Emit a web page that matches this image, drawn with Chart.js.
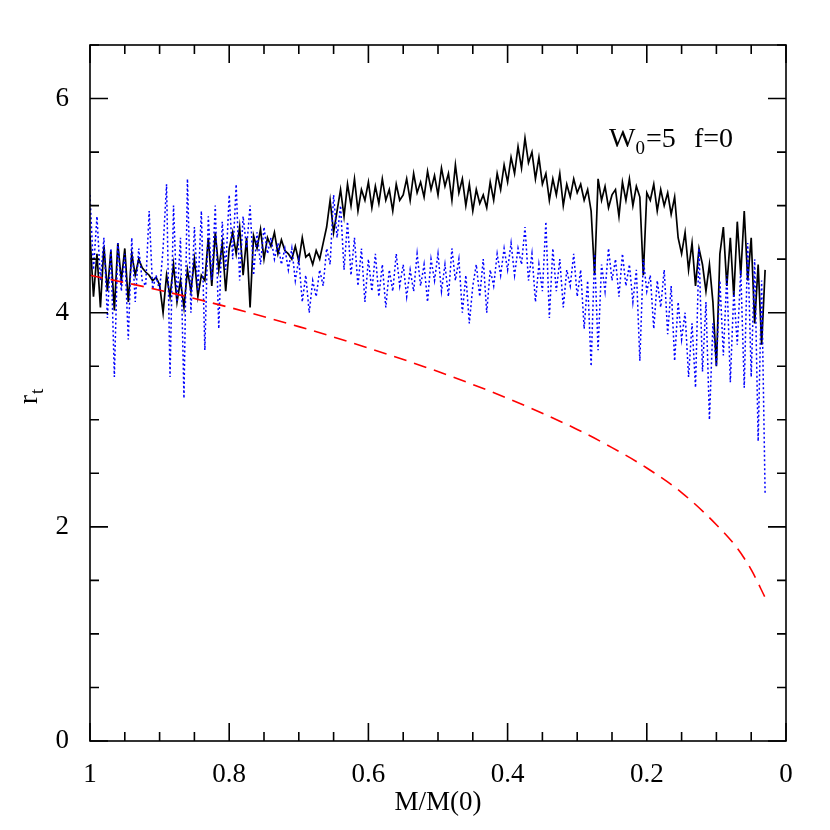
<!DOCTYPE html>
<html>
<head>
<meta charset="utf-8">
<script src="https://cdn.jsdelivr.net/npm/chart.js@4.4.0/dist/chart.umd.min.js"></script>
<style>
  html, body { margin: 0; padding: 0; background: #fff; }
</style>
</head>
<body>
<canvas id="rtChart" width="830" height="830"></canvas>
<script>
// mass fraction grid shared by the two noisy runs
const massGrid = [
  1.000, 0.995, 0.990, 0.985, 0.980, 0.975, 0.970, 0.965, 0.960, 0.955,
  0.950, 0.945, 0.940, 0.935, 0.930, 0.925, 0.920, 0.915, 0.910, 0.905,
  0.900, 0.895, 0.890, 0.885, 0.880, 0.875, 0.870, 0.865, 0.860, 0.855,
  0.850, 0.845, 0.840, 0.835, 0.830, 0.825, 0.820, 0.815, 0.810, 0.805,
  0.800, 0.795, 0.790, 0.785, 0.780, 0.775, 0.770, 0.765, 0.760, 0.755,
  0.750, 0.745, 0.740, 0.735, 0.730, 0.725, 0.720, 0.715, 0.710, 0.705,
  0.700, 0.695, 0.690, 0.685, 0.680, 0.675, 0.670, 0.665, 0.660, 0.655,
  0.650, 0.645, 0.640, 0.635, 0.630, 0.625, 0.620, 0.615, 0.610, 0.605,
  0.600, 0.595, 0.590, 0.585, 0.580, 0.575, 0.570, 0.565, 0.560, 0.555,
  0.550, 0.545, 0.540, 0.535, 0.530, 0.525, 0.520, 0.515, 0.510, 0.505,
  0.500, 0.495, 0.490, 0.485, 0.480, 0.475, 0.470, 0.465, 0.460, 0.455,
  0.450, 0.445, 0.440, 0.435, 0.430, 0.425, 0.420, 0.415, 0.410, 0.405,
  0.400, 0.395, 0.390, 0.385, 0.380, 0.375, 0.370, 0.365, 0.360, 0.355,
  0.350, 0.345, 0.340, 0.335, 0.330, 0.325, 0.320, 0.315, 0.310, 0.305,
  0.300, 0.295, 0.290, 0.285, 0.280, 0.275, 0.270, 0.265, 0.260, 0.255,
  0.250, 0.245, 0.240, 0.235, 0.230, 0.225, 0.220, 0.215, 0.210, 0.205,
  0.200, 0.195, 0.190, 0.185, 0.180, 0.175, 0.170, 0.165, 0.160, 0.155,
  0.150, 0.145, 0.140, 0.135, 0.130, 0.125, 0.120, 0.115, 0.110, 0.105,
  0.100, 0.095, 0.090, 0.085, 0.080, 0.075, 0.070, 0.065, 0.060, 0.055,
  0.050, 0.045, 0.040, 0.035, 0.030
];

// black solid run
const rtSolid = [
  4.72, 4.15, 4.55, 4.05, 4.62, 4.20, 4.58, 4.02, 4.65, 4.30,
  4.60, 4.10, 4.55, 4.35, 4.50, 4.42, 4.38, 4.35, 4.30, 4.33,
  4.26, 4.00, 4.35, 4.15, 4.45, 4.10, 4.30, 4.05, 4.40, 4.20,
  4.50, 4.15, 4.35, 4.30, 4.70, 4.25, 4.75, 4.40, 4.65, 4.20,
  4.60, 4.75, 4.55, 4.80, 4.35, 4.70, 4.05, 4.72, 4.60, 4.78,
  4.50, 4.70, 4.62, 4.75, 4.55, 4.68, 4.58, 4.55, 4.50, 4.62,
  4.48, 4.70, 4.52, 4.55, 4.45, 4.58, 4.50, 4.65, 4.80, 5.05,
  4.75, 4.95, 5.15, 4.90, 5.20, 5.00, 5.25, 4.95, 5.15, 5.05,
  5.22, 4.98, 5.18, 5.02, 5.25, 5.05, 5.15, 4.95, 5.20, 5.05,
  5.10, 5.25, 5.05, 5.30, 5.12, 5.22, 5.08, 5.32, 5.15, 5.28,
  5.10, 5.35, 5.18, 5.30, 5.05, 5.38, 5.12, 5.25, 5.00, 5.20,
  4.95, 5.15, 5.02, 5.10, 4.98, 5.22, 5.05, 5.30, 5.15, 5.38,
  5.22, 5.45, 5.30, 5.55, 5.35, 5.63, 5.40, 5.50, 5.25, 5.45,
  5.20, 5.30, 5.05, 5.25, 5.10, 5.30, 5.00, 5.20, 5.08, 5.25,
  5.12, 5.20, 5.05, 5.15, 4.95, 4.35, 5.25, 5.05, 5.18, 4.98,
  5.10, 5.15, 4.90, 5.22, 5.05, 5.25, 5.00, 5.18, 5.08, 4.35,
  5.12, 5.05, 5.20, 4.95, 5.15, 5.00, 5.12, 4.92, 5.08, 4.70,
  4.55, 4.75, 4.40, 4.65, 4.25, 4.60, 4.45, 4.20, 4.45, 4.10,
  3.50, 4.55, 4.80, 4.25, 4.70, 4.15, 4.85, 4.35, 4.95, 4.30,
  4.70, 3.90, 4.45, 3.70, 4.40
];

// blue dotted run
const rtDotted = [
  5.10, 4.40, 4.90, 4.30, 4.70, 3.95, 4.60, 3.40, 4.65, 4.20,
  4.55, 3.75, 4.70, 4.10, 4.60, 4.30, 4.25, 4.95, 4.22, 4.35,
  4.20, 4.60, 5.20, 3.40, 5.00, 4.10, 4.70, 3.20, 5.25, 4.00,
  4.80, 4.20, 4.95, 3.65, 4.90, 4.30, 5.00, 3.85, 4.85, 4.40,
  5.10, 4.50, 5.20, 4.30, 4.90, 4.60, 5.00, 4.35, 4.75, 4.45,
  4.80, 4.55, 4.70, 4.50, 4.65, 4.45, 4.60, 4.40, 4.60, 4.30,
  4.50, 4.10, 4.35, 4.00, 4.30, 4.15, 4.40, 4.25, 4.60, 4.45,
  5.10, 4.70, 5.00, 4.40, 4.85, 4.35, 4.70, 4.25, 4.60, 4.10,
  4.50, 4.20, 4.55, 4.15, 4.45, 4.05, 4.40, 4.20, 4.55, 4.25,
  4.45, 4.15, 4.40, 4.20, 4.55, 4.25, 4.45, 4.10, 4.50, 4.30,
  4.55, 4.20, 4.45, 4.15, 4.60, 4.30, 4.50, 4.00, 4.35, 3.90,
  4.25, 4.45, 4.15, 4.50, 4.00, 4.40, 4.25, 4.55, 4.35, 4.60,
  4.40, 4.65, 4.35, 4.60, 4.45, 4.80, 4.30, 4.55, 4.10, 4.45,
  4.20, 4.85, 3.95, 4.60, 4.20, 4.50, 4.05, 4.40, 4.25, 4.55,
  4.15, 4.40, 3.85, 4.30, 3.50, 4.55, 3.65, 4.45, 4.20, 4.60,
  4.30, 4.50, 4.15, 4.55, 4.25, 4.45, 4.10, 4.40, 3.55, 4.50,
  4.20, 4.35, 3.85, 4.30, 4.05, 4.40, 3.80, 4.25, 3.55, 4.10,
  3.75, 4.00, 3.40, 3.90, 3.30, 4.60, 3.45, 4.10, 3.00, 3.90,
  3.50, 4.30, 3.60, 4.35, 3.35, 4.20, 3.70, 4.40, 3.30, 4.65,
  3.40, 4.50, 2.80, 4.30, 2.30
];

// red dashed curve
const dashMass = [1.0, 0.9, 0.8, 0.7, 0.6, 0.5, 0.4, 0.3, 0.25, 0.2, 0.15, 0.1, 0.07, 0.05, 0.03];
const dashRt = [4.35, 4.21, 4.05, 3.87, 3.67, 3.45, 3.20, 2.91, 2.74, 2.55, 2.32, 2.02, 1.80, 1.60, 1.34];

const xTicks = [1, 0.8, 0.6, 0.4, 0.2, 0];
const yTicks = [0, 2, 4, 6];

const serif = "'Liberation Serif', 'Times New Roman', serif";

function pairs(xs, ys) {
    return xs.map(function (m, i) { return { x: m, y: ys[i] }; });
}

// frame with inward ticks on all four sides, plus the labels with subscripts
const framePlugin = {
    id: "frame",
    afterDatasetsDraw(chart) {
        const ctx = chart.ctx;
        const a = chart.chartArea;
        const x = chart.scales.x, y = chart.scales.y;
        ctx.save();
        ctx.strokeStyle = "#000";
        ctx.lineWidth = 1.6;
        ctx.strokeRect(a.left, a.top, a.right - a.left, a.bottom - a.top);
        ctx.beginPath();
        for (let k = 0; k <= 20; k++) {
            const px = x.getPixelForValue(k * 0.05);
            const len = k % 4 === 0 ? 18 : 9;
            ctx.moveTo(px, a.bottom); ctx.lineTo(px, a.bottom - len);
            ctx.moveTo(px, a.top); ctx.lineTo(px, a.top + len);
        }
        for (let k = 0; k <= 13; k++) {
            const py = y.getPixelForValue(k * 0.5);
            const len = k % 4 === 0 ? 18 : 9;
            ctx.moveTo(a.left, py); ctx.lineTo(a.left + len, py);
            ctx.moveTo(a.right, py); ctx.lineTo(a.right - len, py);
        }
        ctx.stroke();

        ctx.fillStyle = "#000";
        ctx.textBaseline = "alphabetic";
        ctx.textAlign = "left";

        // y title r_t, rotated
        ctx.save();
        ctx.translate(37, 404);
        ctx.rotate(-Math.PI / 2);
        ctx.font = "27px " + serif;
        ctx.fillText("r", 0, 0);
        const rw = ctx.measureText("r").width;
        ctx.font = "19px " + serif;
        ctx.fillText("t", rw + 1, 6);
        ctx.restore();

        // annotation W_0=5  f=0
        ctx.font = "28px " + serif;
        ctx.fillText("W", 609, 147);
        let cx = 609 + ctx.measureText("W").width;
        ctx.font = "19px " + serif;
        ctx.fillText("0", cx, 154);
        cx += ctx.measureText("0").width + 1;
        ctx.font = "28px " + serif;
        ctx.fillText("=5", cx, 147);
        ctx.fillText("f=0", 694, 147);
        ctx.restore();
    }
};

new Chart(document.getElementById("rtChart"), {
    type: "line",
    data: {
        datasets: [
            {
                label: "dashed",
                data: pairs(dashMass, dashRt),
                borderColor: "#ff0000",
                borderWidth: 1.6,
                borderDash: [13, 8],
                pointRadius: 0,
                cubicInterpolationMode: "monotone",
                fill: false,
                order: 0
            },
            {
                label: "dotted",
                data: pairs(massGrid, rtDotted),
                borderColor: "#0000ff",
                borderWidth: 1.5,
                borderDash: [2, 2.5],
                pointRadius: 0,
                tension: 0,
                fill: false,
                order: 1
            },
            {
                label: "solid",
                data: pairs(massGrid, rtSolid),
                borderColor: "#000000",
                borderWidth: 1.7,
                pointRadius: 0,
                tension: 0,
                fill: false,
                order: 2
            }
        ]
    },
    options: {
        responsive: false,
        animation: false,
        layout: { padding: { top: 45, right: 44, left: 0, bottom: 0 } },
        plugins: {
            legend: { display: false },
            tooltip: { enabled: false }
        },
        scales: {
            x: {
                type: "linear",
                reverse: true,
                min: 0,
                max: 1,
                border: { display: false },
                grid: { display: false },
                afterFit: function (s) { s.height = 89; },
                afterBuildTicks: function (s) { s.ticks = xTicks.map(function (v) { return { value: v }; }); },
                ticks: {
                    padding: 10,
                    color: "#000",
                    maxRotation: 0,
                    autoSkip: false,
                    font: { family: serif, size: 27 },
                    callback: function (v) { return String(Math.round(v * 10) / 10); }
                },
                title: {
                    display: true,
                    text: "M/M(0)",
                    color: "#000",
                    font: { family: serif, size: 27 },
                    padding: { top: 0, bottom: 11 }
                }
            },
            y: {
                type: "linear",
                min: 0,
                max: 6.5,
                border: { display: false },
                grid: { display: false },
                afterFit: function (s) { s.width = 90; },
                afterBuildTicks: function (s) { s.ticks = yTicks.map(function (v) { return { value: v }; }); },
                ticks: {
                    padding: 13,
                    color: "#000",
                    autoSkip: false,
                    font: { family: serif, size: 27 },
                    callback: function (v) { return String(v); }
                }
            }
        }
    },
    plugins: [framePlugin]
});
</script>
</body>
</html>
